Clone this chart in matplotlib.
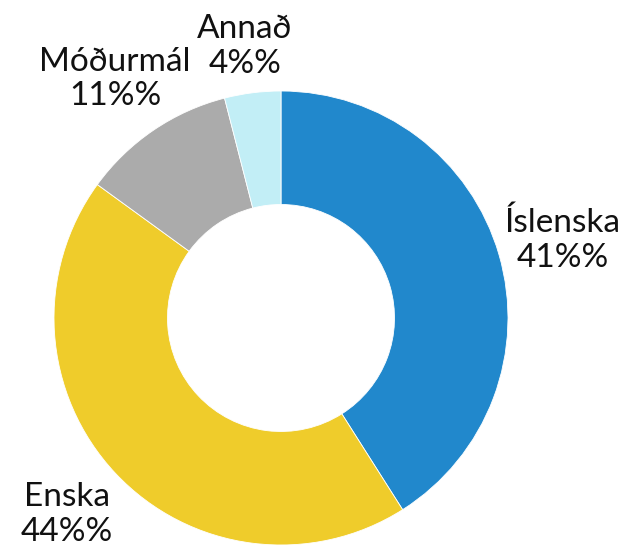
import matplotlib
matplotlib.use("Agg")
import matplotlib.pyplot as plt

plt.rcParams['font.family'] = ['Lato', 'DejaVu Sans']

categories = ['Íslenska', 'Enska', 'Móðurmál', 'Annað']
shares = [41, 44, 11, 4]
labels = ['Íslenska\n41%%', 'Enska\n44%%', 'Móðurmál\n11%%', 'Annað\n4%%']
colors = ['#2188CC', '#EFCC2B', '#ABABAB', '#C2EEF6']
# label anchor points, in units of the outer radius
label_pos = [(1.242, 0.342), (-0.943, -0.866), (-0.731, 1.053), (-0.159, 1.196)]

fig = plt.figure(figsize=(6.26, 5.47), dpi=100)
ax = fig.add_axes([0, 0, 1, 1])

ax.pie(shares, colors=colors, startangle=90, counterclock=False,
       radius=1, wedgeprops=dict(width=0.5, edgecolor='white', linewidth=0.6))

for lab, (x, y) in zip(labels, label_pos):
    ax.text(x, y, lab, ha='center', va='center', fontsize=24,
            linespacing=1.2, color='#111111')

r = 227
ax.set_xlim(-281 / r, (626 - 281) / r)
ax.set_ylim(-(547 - 318) / r, 318 / r)
ax.set_aspect('equal')
ax.axis('off')

fig.savefig('out.png', dpi=100)
